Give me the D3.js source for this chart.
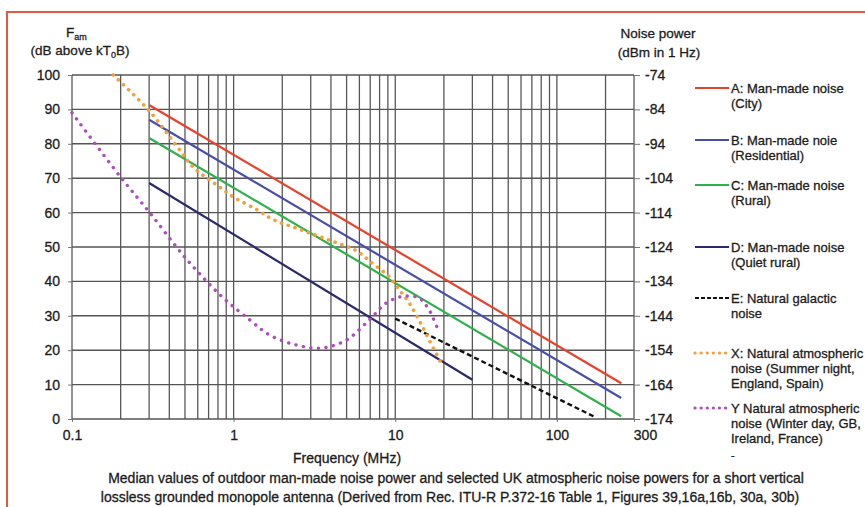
<!DOCTYPE html>
<html>
<head>
<meta charset="utf-8">
<script src="https://cdn.jsdelivr.net/npm/d3@7"></script>
<style>
  body { margin: 0; background: #fff; }
  svg text { font-family: Arial, "Liberation Sans", sans-serif; fill: #1c1c1c; stroke: #1c1c1c; stroke-width: 0.3px; }
</style>
</head>
<body>
<div id="chart"></div>
<script>
// tick labels
const freqLabels = [0.1, 1, 10, 100, 300];
const famTicks = [0, 10, 20, 30, 40, 50, 60, 70, 80, 90, 100];
const powerTicks = [-174, -164, -154, -144, -134, -124, -114, -104, -94, -84, -74];

// series values: [frequency MHz, Fam dB]
const cityNoise = [[0.3, 91.3], [250, 10.4]];
const residentialNoise = [[0.3, 87.0], [250, 6.1]];
const ruralNoise = [[0.3, 81.7], [250, 0.8]];
const quietRuralNoise = [[0.3, 68.6], [30, 11.4]];
const galacticNoise = [[10, 29.2], [175, 0.4]];
const summerNight = [[0.18, 100], [0.3, 89.6], [0.45, 79], [0.56, 73.3], [0.82, 67.4], [1.0, 64.5],
  [1.4, 60.8], [1.75, 58], [2.5, 55.3], [3.9, 52], [5.7, 49], [7.2, 45.3], [9.2, 41.3],
  [10.6, 37.5], [12.2, 33.7], [14, 28.8], [16.2, 23], [19.2, 16.3]];
const winterDay = [[0.1, 89], [0.2, 70.3], [0.3, 60.2], [0.5, 47], [0.85, 35.5], [1.26, 28.8],
  [1.67, 24.4], [2.45, 21.5], [3.5, 20.6], [5, 23], [6.9, 28.8], [8.8, 33.7], [11, 35.6],
  [14, 35.2], [16.2, 31.7], [18.7, 25]];

const seriesNames = ['A', 'B', 'C', 'D', 'E', 'X', 'Y'];
const seriesLabels = [
  ['A: Man-made noise', '(City)'],
  ['B: Man-made noie', '(Residential)'],
  ['C: Man-made noise', '(Rural)'],
  ['D: Man-made noise', '(Quiet rural)'],
  ['E: Natural galactic', 'noise'],
  ['X: Natural atmospheric', 'noise (Summer night,', 'England, Spain)'],
  ['Y Natural atmospheric', 'noise (Winter day, GB,', 'Ireland, France)']
];
const seriesData = [cityNoise, residentialNoise, ruralNoise, quietRuralNoise, galacticNoise, summerNight, winterDay];

const styles = {
  A: {color: '#e8412c', width: 2.2, dash: null},
  B: {color: '#4b4ea8', width: 2.2, dash: null},
  C: {color: '#2fb14c', width: 2.2, dash: null},
  D: {color: '#2b2a6b', width: 2.2, dash: null},
  E: {color: '#111111', width: 2.4, dash: '5 3'},
  X: {color: '#f2a03d', width: 3.6, dash: '0.1 7', smooth: true},
  Y: {color: '#ab4fbb', width: 3.4, dash: '0.1 7.5', smooth: true}
};

const margin = {top: 75, left: 72};
const width = 562, height = 344;

const svg = d3.select('#chart').append('svg')
    .attr('width', 865)
    .attr('height', 507);

// red frame round the figure (cut off at right and bottom)
svg.append('path')
    .attr('d', 'M7,507 L7,12 L865,12')
    .attr('fill', 'none')
    .attr('stroke', '#e35a40')
    .attr('stroke-width', 2);

const chart = svg.append('g')
    .attr('transform', `translate(${margin.left},${margin.top})`);

const xScale = d3.scaleLog().domain([0.1, 300]).range([0, width]);
const yScale = d3.scaleLinear().domain([0, 100]).range([height, 0]);
const yRight = d3.scaleLinear().domain([-174, -74]).range([height, 0]);

// grid
chart.append('g').selectAll('line')
    .data(xScale.ticks())
  .join('line')
    .attr('x1', d => xScale(d)).attr('x2', d => xScale(d))
    .attr('y1', 0).attr('y2', height)
    .attr('stroke', '#585858')
    .attr('stroke-width', 1.3);

chart.append('g').selectAll('line')
    .data(famTicks)
  .join('line')
    .attr('x1', 0).attr('x2', width)
    .attr('y1', d => yScale(d)).attr('y2', d => yScale(d))
    .attr('stroke', '#555')
    .attr('stroke-width', 1.4);

// axes
const styleAxis = g => {
  g.select('.domain').remove();
  g.selectAll('.tick line').attr('stroke', '#777');
  g.selectAll('.tick text').style('font-size', '14px').attr('fill', '#1c1c1c');
};

chart.append('g')
    .call(d3.axisLeft(yScale).tickValues(famTicks).tickSize(4).tickPadding(8))
    .call(styleAxis);

chart.append('g')
    .attr('transform', `translate(${width},0)`)
    .call(d3.axisRight(yRight).tickValues(powerTicks).tickFormat(d => String(d)).tickSize(6).tickPadding(5))
    .call(styleAxis);

const xAxisG = chart.append('g')
    .attr('transform', `translate(0,${height})`)
    .call(d3.axisBottom(xScale).tickValues(freqLabels).tickFormat(d => d).tickSize(3).tickPadding(8))
    .call(styleAxis);
xAxisG.selectAll('.tick text').filter(d => d === 300).attr('dx', 11);

// series
const line = d3.line().x(d => xScale(d[0])).y(d => yScale(d[1]));
const smoothLine = d3.line().x(d => xScale(d[0])).y(d => yScale(d[1])).curve(d3.curveCatmullRom);

seriesNames.forEach((name, i) => {
  const s = styles[name];
  chart.append('path')
      .datum(seriesData[i])
      .attr('d', s.smooth ? smoothLine : line)
      .attr('fill', 'none')
      .attr('stroke', s.color)
      .attr('stroke-width', s.width)
      .attr('stroke-linecap', s.smooth ? 'round' : 'butt')
      .attr('stroke-dasharray', s.dash);
});

// axis titles
const leftTitle = svg.append('text').attr('x', 66).attr('y', 37).style('font-size', '13.5px');
leftTitle.append('tspan').text('F');
leftTitle.append('tspan').attr('dy', 3).style('font-size', '9px').text('am');
const leftUnit = svg.append('text').attr('x', 80).attr('y', 55).attr('text-anchor', 'middle').style('font-size', '13.5px');
leftUnit.append('tspan').text('(dB above kT');
leftUnit.append('tspan').attr('dy', 3).style('font-size', '9px').text('0');
leftUnit.append('tspan').attr('dy', -3).text('B)');

svg.append('text').attr('x', 658).attr('y', 38).attr('text-anchor', 'middle').style('font-size', '13.5px').text('Noise power');
svg.append('text').attr('x', 659).attr('y', 57).attr('text-anchor', 'middle').style('font-size', '13.5px').text('(dBm in 1 Hz)');

svg.append('text').attr('x', 347).attr('y', 463).attr('text-anchor', 'middle').style('font-size', '14px').text('Frequency (MHz)');

svg.append('text').attr('x', 456).attr('y', 483).attr('text-anchor', 'middle').style('font-size', '14px')
    .text('Median values of outdoor man-made noise power and selected UK atmospheric noise powers for a short vertical');
svg.append('text').attr('x', 450).attr('y', 502).attr('text-anchor', 'middle').style('font-size', '14px')
    .text('lossless grounded monopole antenna (Derived from Rec. ITU-R P.372-16 Table 1, Figures 39,16a,16b, 30a, 30b)');

// legend
const legendY = [88, 140, 185, 247, 298, 353, 408];
const legend = svg.append('g');
seriesNames.forEach((name, i) => {
  const s = styles[name];
  const g = legend.append('g').attr('transform', `translate(695,${legendY[i]})`);
  g.append('line')
      .attr('x1', 0).attr('x2', 34)
      .attr('stroke', s.color)
      .attr('stroke-width', s.smooth ? 3.2 : 2)
      .attr('stroke-linecap', s.smooth ? 'round' : 'butt')
      .attr('stroke-dasharray', s.smooth ? '0.1 6' : (s.dash ? '4 2' : null));
  const t = g.append('text').attr('x', 36).attr('y', 5).style('font-size', '13px');
  seriesLabels[i].forEach((l, j) => {
    t.append('tspan').attr('x', 36).attr('dy', j === 0 ? 0 : 15).text(l);
  });
});
svg.append('text').attr('x', 731).attr('y', 459).style('font-size', '11px').text('-');
</script>
</body>
</html>
